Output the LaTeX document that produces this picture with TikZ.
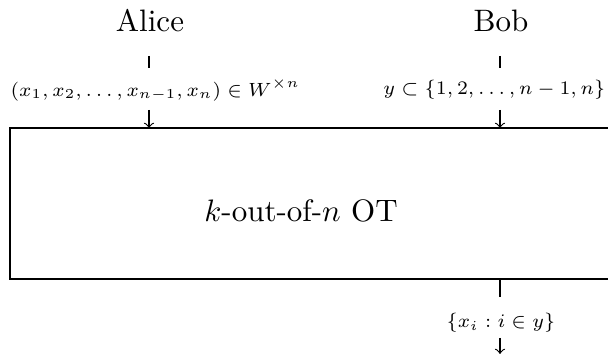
\documentclass[tikz,border=0pt]{standalone}
\usepackage{graphicx}
\newcommand{\bigtxt}[1]{\scalebox{1.07}{#1}}
\newcommand{\smtxt}[1]{\scalebox{0.943}{\scriptsize #1}}
\begin{document}
\begin{tikzpicture}[x=0.345pt,y=-0.345pt,
  party/.style={inner sep=0pt},
  lbl/.style={inner sep=0pt},
  wire/.style={line width=0.4pt},
  arr/.style={wire, ->}]
\useasboundingbox (0,0) rectangle (608,354);
% parties
\node[party, anchor=base] (alice) at (150,32) {\bigtxt{Alice}};
\node[party, anchor=base] (bob) at (501,32) {\bigtxt{Bob}};
% functionality box (clipped at the right edge)
\coordinate (boxtl) at (10,128);
\coordinate (boxbr) at (760,279);
\begin{scope}
\clip (0,0) rectangle (608,354);
\draw[wire] (boxtl) rectangle (boxbr);
\end{scope}
\node[party] (ot) at (301,211) {\bigtxt{$k$-out-of-$n$ OT}};
% Alice input
\coordinate (a1) at (149,56);
\coordinate (a2) at (149,68);
\coordinate (a3) at (149,110);
\coordinate (a4) at (149,128);
\node[lbl, anchor=west] (ain) at (10,90) {\smtxt{$(x_1,x_2,\ldots,x_{n-1},x_n)\in W^{\times n}$}};
\draw[wire] (a1) -- (a2);
\draw[arr] (a3) -- (a4);
% Bob input
\coordinate (b1) at (500,56);
\coordinate (b2) at (500,68);
\coordinate (b3) at (500,110);
\coordinate (b4) at (500,128);
\node[lbl, anchor=east] (bin) at (606,90) {\smtxt{$y\subset\{1,2,\ldots,n-1,n\}$}};
\draw[wire] (b1) -- (b2);
\draw[arr] (b3) -- (b4);
% Bob output
\coordinate (c1) at (500,279);
\coordinate (c2) at (500,297);
\coordinate (c3) at (500,338);
\coordinate (c4) at (500,354);
\node[lbl] (bout) at (501,323) {\smtxt{$\{x_i : i\in y\}$}};
\draw[wire] (c1) -- (c2);
\draw[arr] (c3) -- (c4);
\end{tikzpicture}
\end{document}
